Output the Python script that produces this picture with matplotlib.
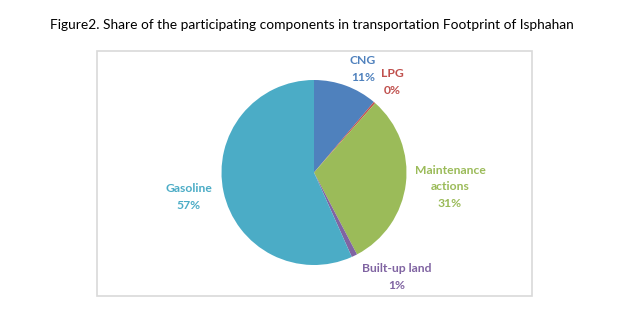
import matplotlib.pyplot as plt
from matplotlib.patches import Rectangle

labels = ['CNG', 'LPG', 'Maintenance\nactions', 'Built-up land', 'Gasoline']
shares = [11.2, 0.3, 30.8, 1.0, 56.7]
colors = ['#4F81BD', '#C0504D', '#9BBB59', '#8064A2', '#4BACC6']

# label centres in pixel coordinates (x, y from top)
label_pos = [(363, 69), (392, 82), (450, 187), (397, 277), (189, 197)]

W, H = 619, 334

def main():
    fig = plt.figure(figsize=(W / 100, H / 100), dpi=100)
    ax = fig.add_axes([0, 0, 1, 1])

    ax.pie(shares, colors=colors, startangle=90, counterclock=False,
           center=(314, H - 172.5), radius=92.5,
           wedgeprops=dict(linewidth=0))

    ax.set_xlim(0, W)
    ax.set_ylim(0, H)
    ax.set_aspect('equal')
    ax.axis('off')

    # chart area border
    ax.add_patch(Rectangle((96.5, H - 295.5), 435, 244.8, fill=False,
                           edgecolor='#D9D9D9', linewidth=1.2))

    for lab, val, col, (x, y) in zip(labels, shares, colors, label_pos):
        ax.text(x, H - y, f"{lab}\n{round(val)}%", color=col, ha='center',
                va='center', fontsize=8.7, fontweight='bold', family='Lato',
                linespacing=1.65)

    fig.text(312 / W, 1 - 25 / H, 'Figure2. Share of the participating components in transportation Footprint of Isphahan',
             ha='center', va='center', fontsize=9.95, family='Lato', color='black')

    fig.savefig('out.png', dpi=100)

if __name__ == '__main__':
    main()
